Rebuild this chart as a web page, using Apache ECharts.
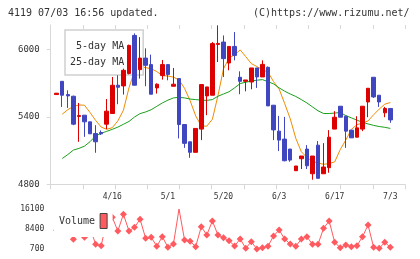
<!DOCTYPE html>
<html>
<head>
<meta charset="utf-8">
<script src="https://cdn.jsdelivr.net/npm/echarts@6/dist/echarts.min.js"></script>
<style>
  html, body { margin: 0; padding: 0; background: #fff; }
  #main { width: 420px; height: 259px; }
</style>
</head>
<body>
<div id="main"></div>
<script>
// 日付（ローソク足ごと）
const dates = [
  '4/2', '4/3', '4/4', '4/5', '4/8', '4/9', '4/10', '4/11', '4/12', '4/15', '4/16',
  '4/17', '4/18', '4/19', '4/22', '4/23', '4/24', '4/25', '4/26', '4/30', '5/1',
  '5/2', '5/7', '5/8', '5/9', '5/10', '5/13', '5/14', '5/15', '5/17', '5/20',
  '5/21', '5/22', '5/23', '5/24', '5/27', '5/28', '5/29', '5/30', '5/31', '6/3',
  '6/4', '6/5', '6/6', '6/7', '6/10', '6/11', '6/12', '6/13', '6/14', '6/17',
  '6/18', '6/19', '6/20', '6/21', '6/24', '6/25', '6/26', '6/27', '7/1', '7/3'
];
const labelDates = ['4/16', '5/1', '5/20', '6/3', '6/17', '7/3'];

const opens = [
  5600, 5718, 5600, 5585, 5405, 5416, 5357, 5253, 5262, 5336, 5431,
  5683, 5677, 5787, 6127, 5822, 5925, 5867, 5659, 5769, 5867,
  5674, 5742, 5333, 5179, 5085, 5292, 5588, 5594, 6047, 6068,
  5881, 6029, 5754, 5718, 5712, 5837, 5757, 5843, 5505, 5274,
  5203, 5114, 4921, 5028, 5114, 4894, 5149, 4894, 4948, 5292,
  5496, 5407, 5283, 5220, 5292, 5534, 5754, 5594, 5437, 5476
];
const closes = [
  5612, 5594, 5588, 5336, 5413, 5357, 5250, 5179, 5250, 5452, 5683,
  5665, 5816, 6038, 5683, 5925, 5861, 5603, 5692, 5867, 5778,
  5692, 5333, 5165, 5085, 5298, 5689, 5668, 6054, 6056, 5920,
  6029, 5949, 5718, 5730, 5837, 5757, 5869, 5499, 5285, 5194,
  5010, 5016, 4963, 5052, 4965, 5052, 4853, 4954, 5220, 5398,
  5398, 5274, 5214, 5303, 5496, 5656, 5579, 5534, 5476, 5374
];
const lows = [
  5598, 5490, 5481, 5327, 5179, 5223, 5250, 5081, 5240, 5292, 5431,
  5514, 5600, 5780, 5683, 5742, 5674, 5603, 5609, 5733, 5727,
  5674, 5209, 5125, 5036, 5085, 5194, 5416, 5594, 5890, 5757,
  5816, 5905, 5603, 5629, 5647, 5659, 5757, 5499, 5194, 5096,
  5005, 5001, 4921, 4936, 4936, 4841, 4853, 4894, 4903, 5292,
  5398, 5125, 5214, 5220, 5274, 5398, 5570, 5490, 5398, 5348
];
const highs = [
  5614, 5718, 5638, 5590, 5525, 5416, 5357, 5327, 5280, 5560, 5757,
  5772, 5831, 6045, 6145, 6112, 6012, 5956, 5700, 5908, 5867,
  5837, 5742, 5333, 5179, 5298, 5689, 5668, 6068, 6217, 6127,
  6029, 6157, 5807, 5730, 5837, 5837, 5905, 5850, 5505, 5410,
  5401, 5114, 4963, 5052, 5149, 5052, 5185, 5167, 5283, 5452,
  5496, 5407, 5283, 5407, 5496, 5656, 5754, 5594, 5490, 5476
];

// 移動平均（チャートから読み取り）
const ma5 = [
  '-', 5425, 5465, 5495, 5507, 5505, 5440, 5370, 5310, 5290, 5305,
  5365, 5460, 5660, 5810, 5850, 5840, 5830, 5805, 5770, 5765,
  5755, 5730, 5655, 5545, 5410, 5320, 5318, 5380, 5590, 5830,
  5925, 5955, 5998, 5938, 5876, 5850, 5820, 5800, 5715, 5650,
  5520, 5385, 5210, 5090, 5040, 5005, 4990, 4978, 4985, 5000,
  5110, 5195, 5290, 5332, 5345, 5365, 5420, 5470, 5514, 5529
];
const ma25 = [
  '-', 5030, 5065, 5105, 5120, 5140, 5180, 5230, 5255, 5272, 5290,
  5310, 5335, 5360, 5400, 5430, 5445, 5465, 5495, 5525, 5550,
  5570, 5575, 5570, 5560, 5555, 5550, 5548, 5555, 5585, 5605,
  5625, 5660, 5698, 5710, 5720, 5728, 5733, 5715, 5695, 5660,
  5630, 5605, 5583, 5555, 5525, 5490, 5455, 5431, 5431, 5435,
  5440, 5412, 5392, 5372, 5352, 5338, 5325, 5315, 5308, 5298
];

// 出来高
const volumes = [
  8000, 9500, 8500, 4464, 10000, 5240, 9000, 2524, 1980, 11500, 13000,
  7684, 14164, 7684, 9120, 12224, 4852, 5240, 1748, 5472, 1360,
  2640, 16220, 4192, 3688, 1592, 9352, 6132, 11564, 6132, 5084,
  3920, 1864, 4580, 972, 3532, 700, 1204, 1748, 5744, 8072,
  4580, 2640, 1748, 4580, 5472, 2524, 2524, 8732, 11564, 3300,
  1204, 2252, 1592, 1980, 5472, 10012, 1360, 972, 3300, 1360
];

const priceTicks = [4800, 5400, 6000];
const volumeTicks = [700, 8400, 16100];

const UP = '#dd0000';
const DOWN = '#4046c0';
const AXIS = '#d8d8d8';
const TEXT = '#333';
const MONO = 'DejaVu Sans Mono';

const chart = echarts.init(document.getElementById('main'));

const candleData = opens.map((o, i) => [o, closes[i], lows[i], highs[i]]);
const plain = v => String(v);

const option = {
  animation: false,
  backgroundColor: '#fff',
  title: [
    {
      text: '4119 07/03 16:56 updated.',
      left: 8, top: 7, padding: 0,
      textStyle: { fontFamily: MONO, fontSize: 10, fontWeight: 'normal', color: TEXT, lineHeight: 12 }
    },
    {
      text: '(C)https://www.rizumu.net/',
      left: 253, top: 7, padding: 0,
      textStyle: { fontFamily: MONO, fontSize: 10, fontWeight: 'normal', color: TEXT, lineHeight: 12 }
    }
  ],
  legend: [
    {
      data: ['5-day MA', '25-day MA'],
      orient: 'vertical', align: 'right',
      left: 65, top: 30,
      icon: 'none', itemWidth: 9, itemHeight: 12, itemGap: 5,
      padding: [10, 14, 8, 5],
      backgroundColor: '#fff', borderColor: '#d0d0d0', borderWidth: 1.5,
      selectedMode: false, z: 2,
      textStyle: { fontFamily: MONO, fontSize: 10, color: TEXT }
    },
    {
      data: ['Volume'],
      orient: 'vertical', align: 'right',
      left: 54, top: 205,
      icon: 'rect', itemWidth: 7, itemHeight: 15,
      padding: [8, 5, 8, 5],
      backgroundColor: '#fff',
      itemStyle: { borderColor: '#444', borderWidth: 1 },
      selectedMode: false, z: 2,
      textStyle: { fontFamily: MONO, fontSize: 10, color: TEXT }
    }
  ],
  grid: [
    { left: 50.7, right: 15, top: 25, height: 159.3 },
    { left: 53.9, right: 26.9, top: 25, height: 159.3 },
    { left: 53.9, right: 26.9, top: 209.3, height: 39.7 }
  ],
  xAxis: [
    {
      gridIndex: 0, type: 'value', min: 0, max: 11, interval: 1,
      axisLine: { lineStyle: { color: AXIS, width: 1 } },
      axisTick: { length: 5, lineStyle: { color: AXIS } },
      axisLabel: { show: false }, splitLine: { show: false }
    },
    {
      gridIndex: 0, type: 'value', min: 0, max: 11, interval: 1,
      axisLine: { show: false },
      axisTick: { inside: true, length: 4, lineStyle: { color: AXIS } },
      axisLabel: { show: false }, splitLine: { show: false }
    },
    {
      gridIndex: 1, type: 'category', data: dates, boundaryGap: true,
      axisLine: { show: false }, axisTick: { show: false },
      axisLabel: {
        interval: (i, v) => labelDates.includes(v),
        margin: 9, fontFamily: MONO, fontSize: 8, color: TEXT
      }
    },
    { gridIndex: 2, type: 'category', data: dates, boundaryGap: true, show: false }
  ],
  yAxis: [
    {
      gridIndex: 0, type: 'value', min: 4800, max: 6220,
      axisLine: { show: true, lineStyle: { color: AXIS, width: 1 } },
      axisTick: { show: true, customValues: priceTicks, length: 4, lineStyle: { color: AXIS } },
      axisLabel: { customValues: priceTicks, formatter: plain, margin: 11, fontFamily: MONO, fontSize: 9, color: TEXT },
      splitLine: { show: false }
    },
    {
      gridIndex: 0, type: 'value', min: 4800, max: 6220,
      axisLine: { show: false },
      axisTick: { show: true, inside: true, customValues: priceTicks, length: 3, lineStyle: { color: AXIS } },
      axisLabel: { show: false }, splitLine: { show: false }
    },
    { gridIndex: 1, type: 'value', min: 4800, max: 6220, show: false },
    {
      gridIndex: 2, type: 'value', min: 700, max: 16100,
      axisLine: { show: false }, axisTick: { show: false },
      axisLabel: { customValues: volumeTicks, formatter: plain, margin: 9.6, fontFamily: MONO, fontSize: 8, color: TEXT },
      splitLine: { show: false }
    }
  ],
  series: [
    {
      name: '5-day MA', type: 'line', xAxisIndex: 2, yAxisIndex: 2,
      data: ma5, showSymbol: false, z: 1,
      lineStyle: { color: '#f08c00', width: 1 }, itemStyle: { color: '#f08c00' }
    },
    {
      name: '25-day MA', type: 'line', xAxisIndex: 2, yAxisIndex: 2,
      data: ma25, showSymbol: false, z: 1,
      lineStyle: { color: '#1aa01a', width: 1 }, itemStyle: { color: '#1aa01a' }
    },
    {
      name: 'Price', type: 'candlestick', xAxisIndex: 2, yAxisIndex: 2,
      data: candleData, barWidth: 4, z: 3,
      itemStyle: { color: UP, color0: DOWN, borderColor: UP, borderColor0: DOWN, borderWidth: 1 }
    },
    {
      name: 'Volume', type: 'line', xAxisIndex: 3, yAxisIndex: 3,
      data: volumes, symbol: 'diamond', symbolSize: 7, showAllSymbol: true, z: 1,
      lineStyle: { color: '#ff5a5f', width: 1 }, itemStyle: { color: '#ff5a5f' }
    }
  ]
};

option && chart.setOption(option);
</script>
</body>
</html>
